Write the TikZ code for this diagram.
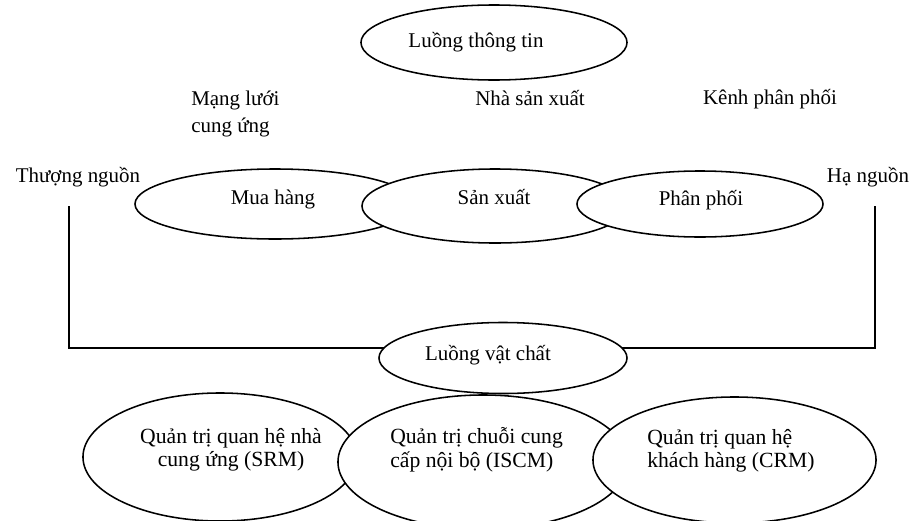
\documentclass[tikz,border=0pt]{standalone}
\usepackage{fontspec}
\setmainfont{Liberation Serif}
\usetikzlibrary{shapes.geometric}

\begin{document}
\begin{tikzpicture}[x=0.025cm, y=-0.025cm,
    oval/.style={ellipse, draw=black, fill=white, line width=1.1pt, inner sep=0pt},
    txt/.style={inner sep=0pt, font=\fontsize{14.9}{19.2}\selectfont, align=left, anchor=base},
    txtb/.style={inner sep=0pt, font=\fontsize{15.4}{16.7}\selectfont},
    flow/.style={line width=1.1pt}
]
\useasboundingbox (0,0) rectangle (914,520);
% information flow
\node[oval, minimum width=6.65cm, minimum height=1.875cm] (info) at (494,42.5) {};
\node[txt] (infotext) at (476,47) {Luồng thông tin};
% headings
\node[txt, anchor=west] (mangluoi) at (191,114) {Mạng lưới\\cung ứng};
\node[txt] (nhasx) at (530,105) {Nhà sản xuất};
\node[txt] (kenhpp) at (770,104) {Kênh phân phối};
\node[txt] (thuong) at (78,182) {Thượng nguồn};
\node[txt] (ha) at (868,182) {Hạ nguồn};
% main chain
\node[oval, minimum width=7cm, minimum height=1.75cm] (mua) at (275,204) {};
\node[oval, minimum width=6.65cm, minimum height=1.85cm] (sx) at (495,206) {};
\node[oval, minimum width=6.15cm, minimum height=1.65cm] (pp) at (700,204) {};
\node[txt] (muatext) at (273,204) {Mua hàng};
\node[txt] (sxtext) at (494,204) {Sản xuất};
\node[txt] (pptext) at (701,205) {Phân phối};
% material flow
\coordinate (lt) at (69,206);
\coordinate (lb) at (69,348);
\coordinate (rb) at (875,348);
\coordinate (rt) at (875,206);
\draw[flow] (lt) -- (lb) -- (rb) -- (rt);
\node[oval, minimum width=6.2cm, minimum height=1.775cm] (vat) at (503,358) {};
\node[txt] (vattext) at (488,360) {Luồng vật chất};
% management areas
\node[oval, minimum width=6.85cm, minimum height=3.2cm] (srm) at (220,457) {};
\node[oval, minimum width=7.25cm, minimum height=3.35cm] (iscm) at (483,462) {};
\node[oval, minimum width=7.075cm, minimum height=3.15cm] (crm) at (734.5,460) {};
\node[txtb, align=center] (srmtext) at (231,450) {Quản trị quan hệ nhà\\cung ứng (SRM)};
\node[txtb, align=left, anchor=west] (iscmtext) at (390,450) {Quản trị chuỗi cung\\cấp nội bộ (ISCM)};
\node[txtb, align=left, anchor=west] (crmtext) at (647,451) {Quản trị quan hệ\\khách hàng (CRM)};
\end{tikzpicture}
\end{document}
